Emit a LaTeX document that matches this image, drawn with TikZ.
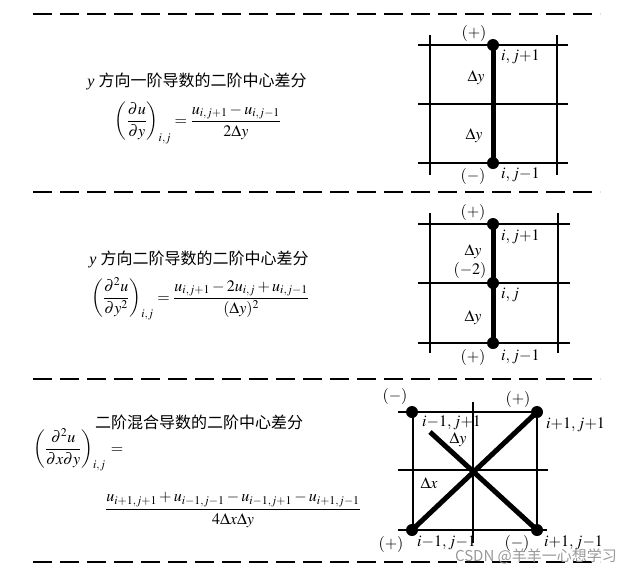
\documentclass[tikz,border=0pt]{standalone}
\usepackage{amsmath,amssymb}
\usepackage{mathptmx}
\usepackage[no-math]{fontspec}
\setmainfont{Liberation Serif}
\newfontfamily\cjk{Noto Sans CJK SC}
\usetikzlibrary{positioning,calc}
\tikzset{dot/.style={circle,fill=black,inner sep=0pt,minimum size=12pt}, lab/.style={inner sep=0pt,font=\fontsize{16}{18}\selectfont}, gridline/.style={line width=2pt}, selected/.style={line width=5pt}, sep/.style={line width=2.6pt,dash pattern=on 19pt off 8pt}, title/.style={inner sep=0pt,font=\fontsize{16}{18}\selectfont}, formula/.style={inner sep=0pt,font=\fontsize{16}{19}\selectfont}}

\begin{document}
\begin{tikzpicture}[x=1pt,y=-1pt]
\useasboundingbox (0,0) rectangle (632,574);
\draw[sep] (33,14) -- (600,14);
\draw[sep] (33,192) -- (600,192);
\draw[sep] (33,379) -- (600,379);
\draw[sep] (33,562) -- (600,562);
% first derivative in y
\node[title] (t1) at (197,81) {\textit{y} {\cjk 方向一阶导数的二阶中心差分}};
\node[formula] (f1) at (198,123) {$\left(\dfrac{\partial u}{\partial y}\right)_{i,j}=\dfrac{u_{i,j+1}-u_{i,j-1}}{2\Delta y}$};
\draw[gridline] (418,45) -- (568,45);
\draw[gridline] (418,104) -- (568,104);
\draw[gridline] (418,163) -- (568,163);
\draw[gridline] (430,35) -- (430,175);
\draw[gridline] (557,35) -- (557,175);
\coordinate (pa) at (493,45);
\coordinate (pb) at (493,163);
\draw[selected] (pa) -- (pb);
\node[dot] (da) at (pa) {};
\node[dot] (db) at (pb) {};
\node[lab] (sa) at (474,33) {$(+)$};
\node[lab,anchor=west] (la) at (501,57) {$i,j{+}1$};
\node[lab] (ya) at (476,78) {$\Delta y$};
\node[lab] (yb) at (474,136) {$\Delta y$};
\node[lab] (sb) at (473,176) {$(-)$};
\node[lab,anchor=west] (lb) at (501,175) {$i,j{-}1$};
% second derivative in y
\node[title] (t2) at (199,259) {\textit{y} {\cjk 方向二阶导数的二阶中心差分}};
\node[formula] (f2) at (200,299) {$\left(\dfrac{\partial^2 u}{\partial y^2}\right)_{i,j}=\dfrac{u_{i,j+1}-2u_{i,j}+u_{i,j-1}}{(\Delta y)^2}$};
\draw[gridline] (418,224) -- (570,224);
\draw[gridline] (418,283) -- (570,283);
\draw[gridline] (418,343) -- (570,343);
\draw[gridline] (430,213) -- (430,353);
\draw[gridline] (558,213) -- (558,353);
\coordinate (pc) at (493,224);
\coordinate (pd) at (493,283);
\coordinate (pe) at (493,343);
\draw[selected] (pc) -- (pe);
\node[dot] (dc) at (pc) {};
\node[dot] (dd) at (pd) {};
\node[dot] (de) at (pe) {};
\node[lab] (sc) at (473,212) {$(+)$};
\node[lab,anchor=west] (lc) at (501,237) {$i,j{+}1$};
\node[lab] (yc) at (473,252) {$\Delta y$};
\node[lab] (wd) at (470,270) {$(-2)$};
\node[lab,anchor=west] (ld) at (501,295) {$i,j$};
\node[lab] (ye) at (473,318) {$\Delta y$};
\node[lab] (se) at (473,357) {$(+)$};
\node[lab,anchor=west] (le) at (501,357) {$i,j{-}1$};
% mixed derivative
\node[title] (t3) at (199,422) {\cjk 二阶混合导数的二阶中心差分};
\node[formula,anchor=west] (f3) at (33,450) {$\left(\dfrac{\partial^2 u}{\partial x\partial y}\right)_{i,j}\,=$};
\node[formula] (f4) at (233,510) {$\dfrac{u_{i+1,j+1}+u_{i-1,j-1}-u_{i-1,j+1}-u_{i+1,j-1}}{4\Delta x\Delta y}$};
\draw[gridline] (398,412) -- (540,412);
\draw[gridline] (398,470) -- (548,470);
\draw[gridline] (398,530) -- (547,530);
\draw[gridline] (413,412) -- (413,530);
\draw[gridline] (537,412) -- (537,530);
\draw[gridline] (473,402) -- (473,543);
\coordinate (pf) at (412,412);
\coordinate (pg) at (537,412);
\coordinate (ph) at (412,530);
\coordinate (pi) at (537,530);
\coordinate (pj) at (430,432);
\draw[selected] (ph) -- (pg);
\draw[selected] (pi) -- (pj);
\node[dot] (df) at (pf) {};
\node[dot] (dg) at (pg) {};
\node[dot] (dh) at (ph) {};
\node[dot] (di) at (pi) {};
\node[lab] (sf) at (395,396) {$(-)$};
\node[lab] (sg) at (518,399) {$(+)$};
\node[lab,anchor=west] (lf) at (422,423) {$i{-}1,j{+}1$};
\node[lab,anchor=west] (lg) at (546,425) {$i{+}1,j{+}1$};
\node[lab] (yf) at (458,440) {$\Delta y$};
\node[lab] (xh) at (429,483) {$\Delta x$};
\node[lab] (sh) at (391,544) {$(+)$};
\node[lab,anchor=west] (lh) at (417,543) {$i{-}1,j{-}1$};
\node[lab] (si) at (517,543) {$(-)$};
\node[lab,anchor=west] (li) at (544,543) {$i{+}1,j{-}1$};
\node[font=\fontsize{15}{17}\selectfont\cjk,text=black!40] (wm) at (536,556) {CSDN @羊羊一心想学习};
\end{tikzpicture}
\end{document}
